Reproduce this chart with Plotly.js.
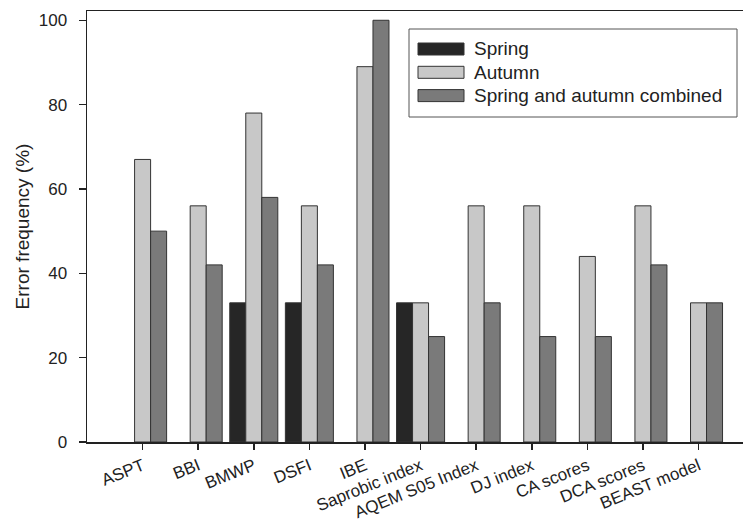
<!DOCTYPE html>
<html>
<head>
<meta charset="utf-8">
<script src="https://cdn.plot.ly/plotly-3.0.1.min.js"></script>
<style>html,body{margin:0;padding:0;background:#fff}#chart{width:743px;height:520px}</style>
</head>
<body>
<div id="chart"></div>
<script>
var categories = ["ASPT","BBI","BMWP","DSFI","IBE","Saprobic index","AQEM S05 Index","DJ index","CA scores","DCA scores","BEAST model"];
var spring   = [0, 0, 33, 33, 0, 33, 0, 0, 0, 0, 0];
var autumn   = [67, 56, 78, 56, 89, 33, 56, 56, 44, 56, 33];
var combined = [50, 42, 58, 42, 100, 25, 33, 25, 25, 42, 33];
var seriesNames = ["Spring","Autumn","Spring and autumn combined"];
var seriesColors = ["#262626","#c8c8c8","#7a7a7a"];
var yTicks = [0, 20, 40, 60, 80, 100];

var W = 743, H = 520, ML = 87, MR = 0, MT = 11, MB = 78;
var idx = categories.map(function(_, i){ return i; });
function bar(name, vals, color){
  return {type:"bar", name:name, x:idx, y:vals, showlegend:false,
    marker:{color:color, line:{color:"#333333", width:vals.map(function(v){ return v > 0 ? 1 : 0; })}}};
}
var data = [
  bar(seriesNames[0], spring, seriesColors[0]),
  bar(seriesNames[1], autumn, seriesColors[1]),
  bar(seriesNames[2], combined, seriesColors[2])
];

// custom legend (wide swatches) in paper coordinates
function px(x){ return (x - ML) / (W - ML - MR); }
function py(y){ return (H - MB - y) / (H - MT - MB); }
var shapes = [{type:"rect", xref:"paper", yref:"paper", x0:px(409), x1:px(737), y0:py(117), y1:py(29),
  line:{color:"#555", width:1}, fillcolor:"#fff", layer:"above"}];
var annotations = [];
seriesNames.forEach(function(n, i){
  var cy = 49 + i * 23.3;
  shapes.push({type:"rect", xref:"paper", yref:"paper", x0:px(418), x1:px(464), y0:py(cy + 6), y1:py(cy - 6),
    line:{color:"#333", width:1}, fillcolor:seriesColors[i], layer:"above"});
  annotations.push({xref:"paper", yref:"paper", x:px(472), y:py(cy), xanchor:"left", yanchor:"middle",
    text:n, showarrow:false, font:{size:19, color:"#222"}});
});

var layout = {
  width:W, height:H,
  margin:{l:ML, r:MR, t:MT, b:MB},
  paper_bgcolor:"#fff", plot_bgcolor:"#fff",
  font:{family:"Liberation Sans, Arial, sans-serif", size:16, color:"#222"},
  barmode:"group", bargap:0.136, bargroupgap:0,
  showlegend:false,
  shapes:shapes, annotations:annotations,
  xaxis:{range:[-1, 10.8], tickmode:"array", tickvals:idx, ticktext:categories,
    tickangle:-22, ticks:"outside", ticklen:6, tickwidth:1.5, tickcolor:"#222",
    showline:true, linecolor:"#222", linewidth:1.5, mirror:true,
    showgrid:false, zeroline:false, tickfont:{size:17}},
  yaxis:{range:[0, 102.2], tickmode:"array", tickvals:yTicks,
    ticks:"outside", ticklen:7, tickwidth:1.5, tickcolor:"#222",
    showline:true, linecolor:"#222", linewidth:1.5,
    showgrid:false, zeroline:false, tickfont:{size:17}, ticklabelstandoff:8,
    title:{text:"Error frequency (%)", font:{size:19}, standoff:4}}
};
Plotly.newPlot("chart", data, layout, {displayModeBar:false, staticPlot:true});
</script>
</body>
</html>
